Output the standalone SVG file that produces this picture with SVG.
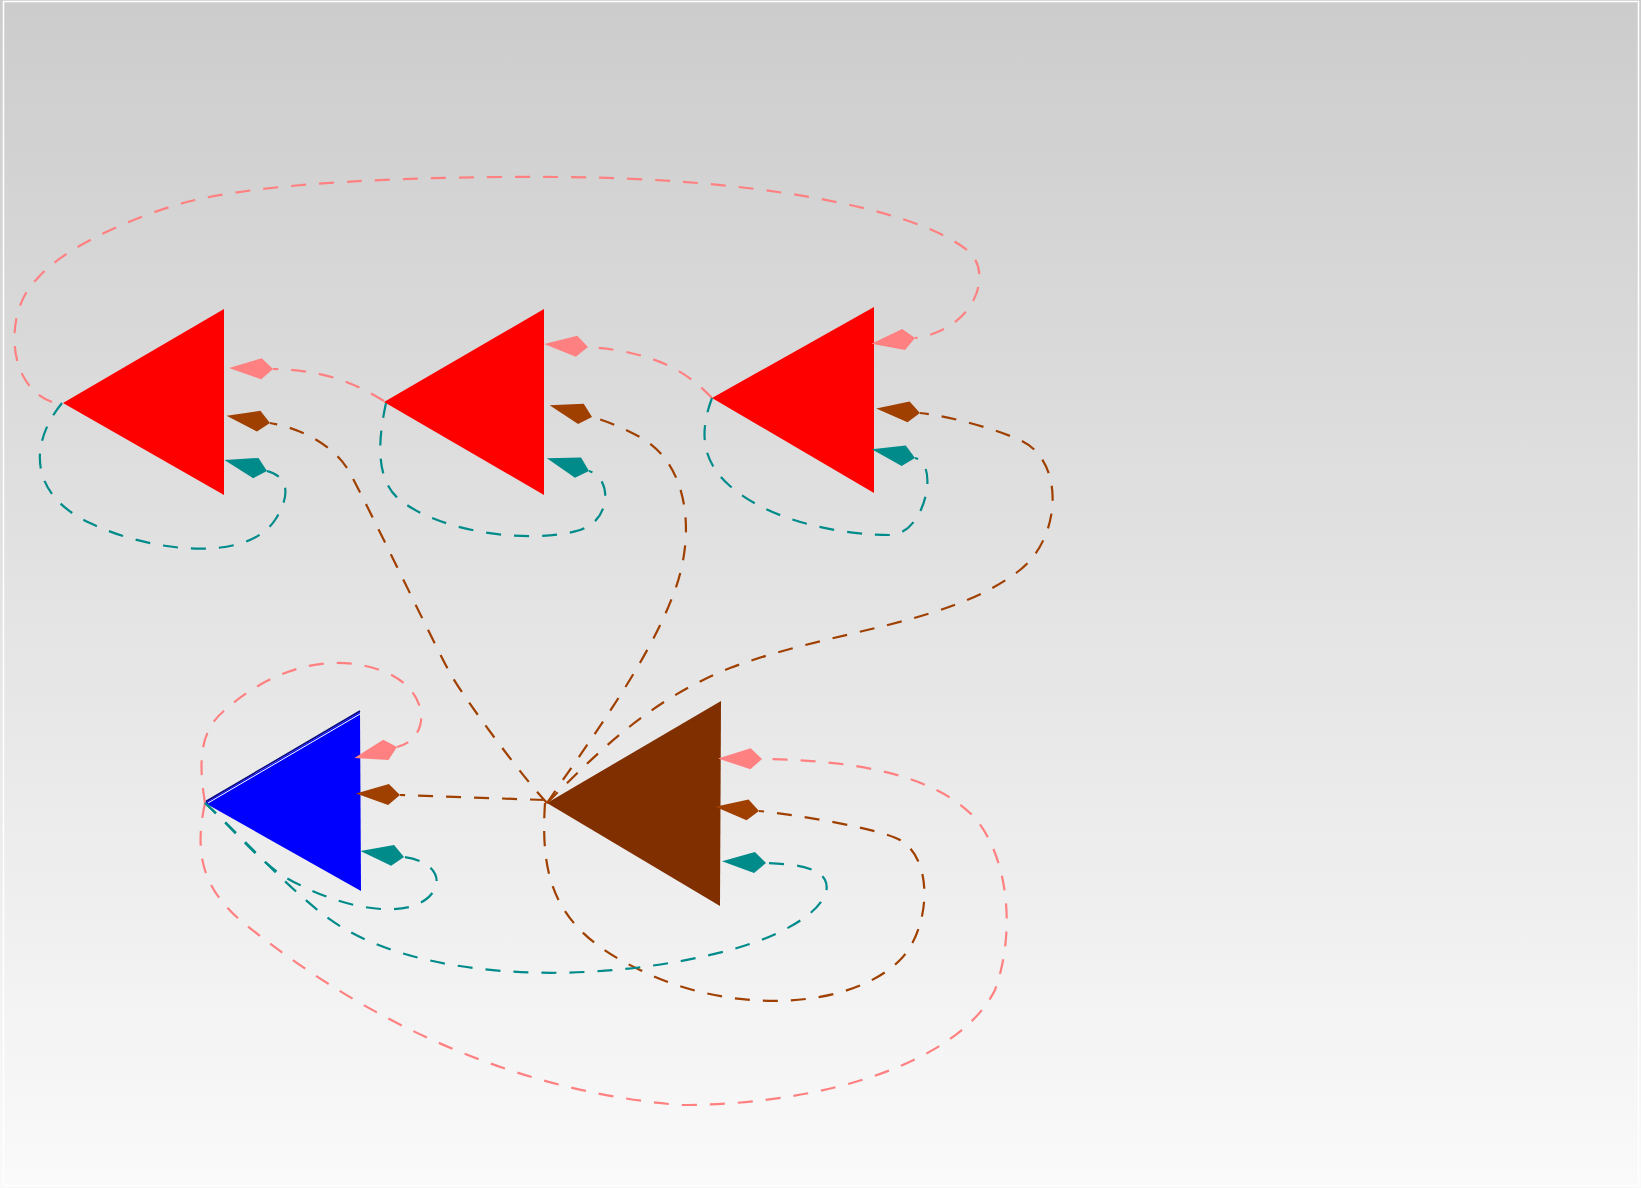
<svg xmlns="http://www.w3.org/2000/svg" width="1641" height="1188" viewBox="0 0 1641 1188">
  <defs>
    <linearGradient id="bg" x1="0" y1="0" x2="0" y2="1">
      <stop offset="0" stop-color="#cccccc"/>
      <stop offset="1" stop-color="#fafafa"/>
    </linearGradient>
    <marker id="mPink" markerUnits="userSpaceOnUse" viewBox="-2 -12 48 24" markerWidth="48" markerHeight="24" refX="0" refY="0" orient="auto" overflow="visible">
      <polygon points="0,0 11.5,-10.5 44,0 11.5,10.5" fill="#ff8080"/>
    </marker>
    <marker id="mBrown" markerUnits="userSpaceOnUse" viewBox="-2 -12 48 24" markerWidth="48" markerHeight="24" refX="0" refY="0" orient="auto" overflow="visible">
      <polygon points="0,0 11.5,-10.5 44,0 11.5,10.5" fill="#a04000"/>
    </marker>
    <marker id="mTeal" markerUnits="userSpaceOnUse" viewBox="-2 -12 48 24" markerWidth="48" markerHeight="24" refX="0" refY="0" orient="auto" overflow="visible">
      <polygon points="0,0 11.5,-10.5 44,0 11.5,10.5" fill="#008b8b"/>
    </marker>
  </defs>
  <style>
    .edge { fill: none; stroke-width: 2.2; stroke-dasharray: 15 13; }
    .pink { stroke: #ff8080; marker-end: url(#mPink); }
    .brown { stroke: #a04000; marker-end: url(#mBrown); }
    .teal { stroke: #008b8b; marker-end: url(#mTeal); }
    .red { fill: #ff0000; }
  </style>
  <rect x="0" y="0" width="1641" height="1188" fill="url(#bg)"/>
  <rect x="3.5" y="1.5" width="1635" height="1184" fill="none" stroke="#ffffff" stroke-width="1.5"/>

  <g id="nodes">
    <g id="node1"><polygon class="red" points="63,403 224,309 224,495"/></g>
    <g id="node2"><polygon class="red" points="384,402 544,309 544,495"/></g>
    <g id="node3"><polygon class="red" points="712,398 874,307 874,493"/></g>
    <g id="node4">
      <polygon points="205,803 360,712 361,891" fill="#0000ff"/>
      <line x1="205" y1="802" x2="360" y2="711" stroke="#000080" stroke-width="1.5"/>
      <line x1="208" y1="803" x2="360" y2="714" stroke="#ffffff" stroke-width="1"/>
    </g>
    <g id="node5"><polygon points="547,803 721,701 720,906" fill="#7f2f00"/></g>
  </g>

  <g id="connectors">
    <!-- pink -->
    <path class="edge pink" d="M 52,402 C 5,385 5,310 36,280 C 65,245 140,215 183,203 C 260,182 420,176 560,177 C 740,178 910,205 967,250 C 995,272 975,330 915,338"/>
    <path class="edge pink" d="M 384,401 C 350,380 320,370 273,369"/>
    <path class="edge pink" d="M 712,398 C 690,375 660,352 588,347"/>
    <path class="edge pink" d="M 205,803 C 198,760 200,730 225,710 C 270,670 330,650 385,672 C 430,690 432,738 397,747"/>
    <path class="edge pink" d="M 205,803 C 195,850 200,885 240,920 C 350,1010 500,1090 680,1105 C 830,1105 960,1060 995,990 C 1015,935 1010,860 975,818 C 930,770 840,760 762,759"/>
    <!-- brown -->
    <path class="edge brown" d="M 547,803 C 525,780 465,700 450,673 C 435,646 370,510 350,473 C 335,445 300,428 270,423"/>
    <path class="edge brown" d="M 547,803 C 590,740 650,660 675,590 C 695,535 690,465 640,437 C 625,429 610,422 592,417"/>
    <path class="edge brown" d="M 547,803 C 600,750 650,700 730,668 C 830,630 950,625 1020,570 C 1062,537 1065,460 1020,440 C 995,429 950,416 920,413"/>
    <path class="edge brown" d="M 545,800 L 400,795"/>
    <path class="edge brown" d="M 545,803 C 540,880 555,930 640,970 C 730,1015 850,1010 900,960 C 930,930 935,860 900,840 C 880,829 800,815 759,811"/>
    <!-- teal -->
    <path class="edge teal" d="M 62,403 C 28,445 30,495 90,523 C 145,550 245,565 275,520 C 290,497 290,477 267,471"/>
    <path class="edge teal" d="M 386,403 C 378,440 375,480 400,500 C 440,532 530,545 580,530 C 612,520 612,478 589,471"/>
    <path class="edge teal" d="M 712,398 C 700,430 700,460 730,486 C 775,525 850,535 890,535 C 925,535 940,463 915,458"/>
    <path class="edge teal" d="M 205,803 C 240,835 265,870 300,885 C 345,908 400,918 425,900 C 445,886 440,862 404,857"/>
    <path class="edge teal" d="M 205,803 C 245,840 280,880 320,912 C 410,985 600,985 730,950 C 800,931 835,900 825,880 C 818,866 790,864 766,863"/>
  </g>
</svg>
